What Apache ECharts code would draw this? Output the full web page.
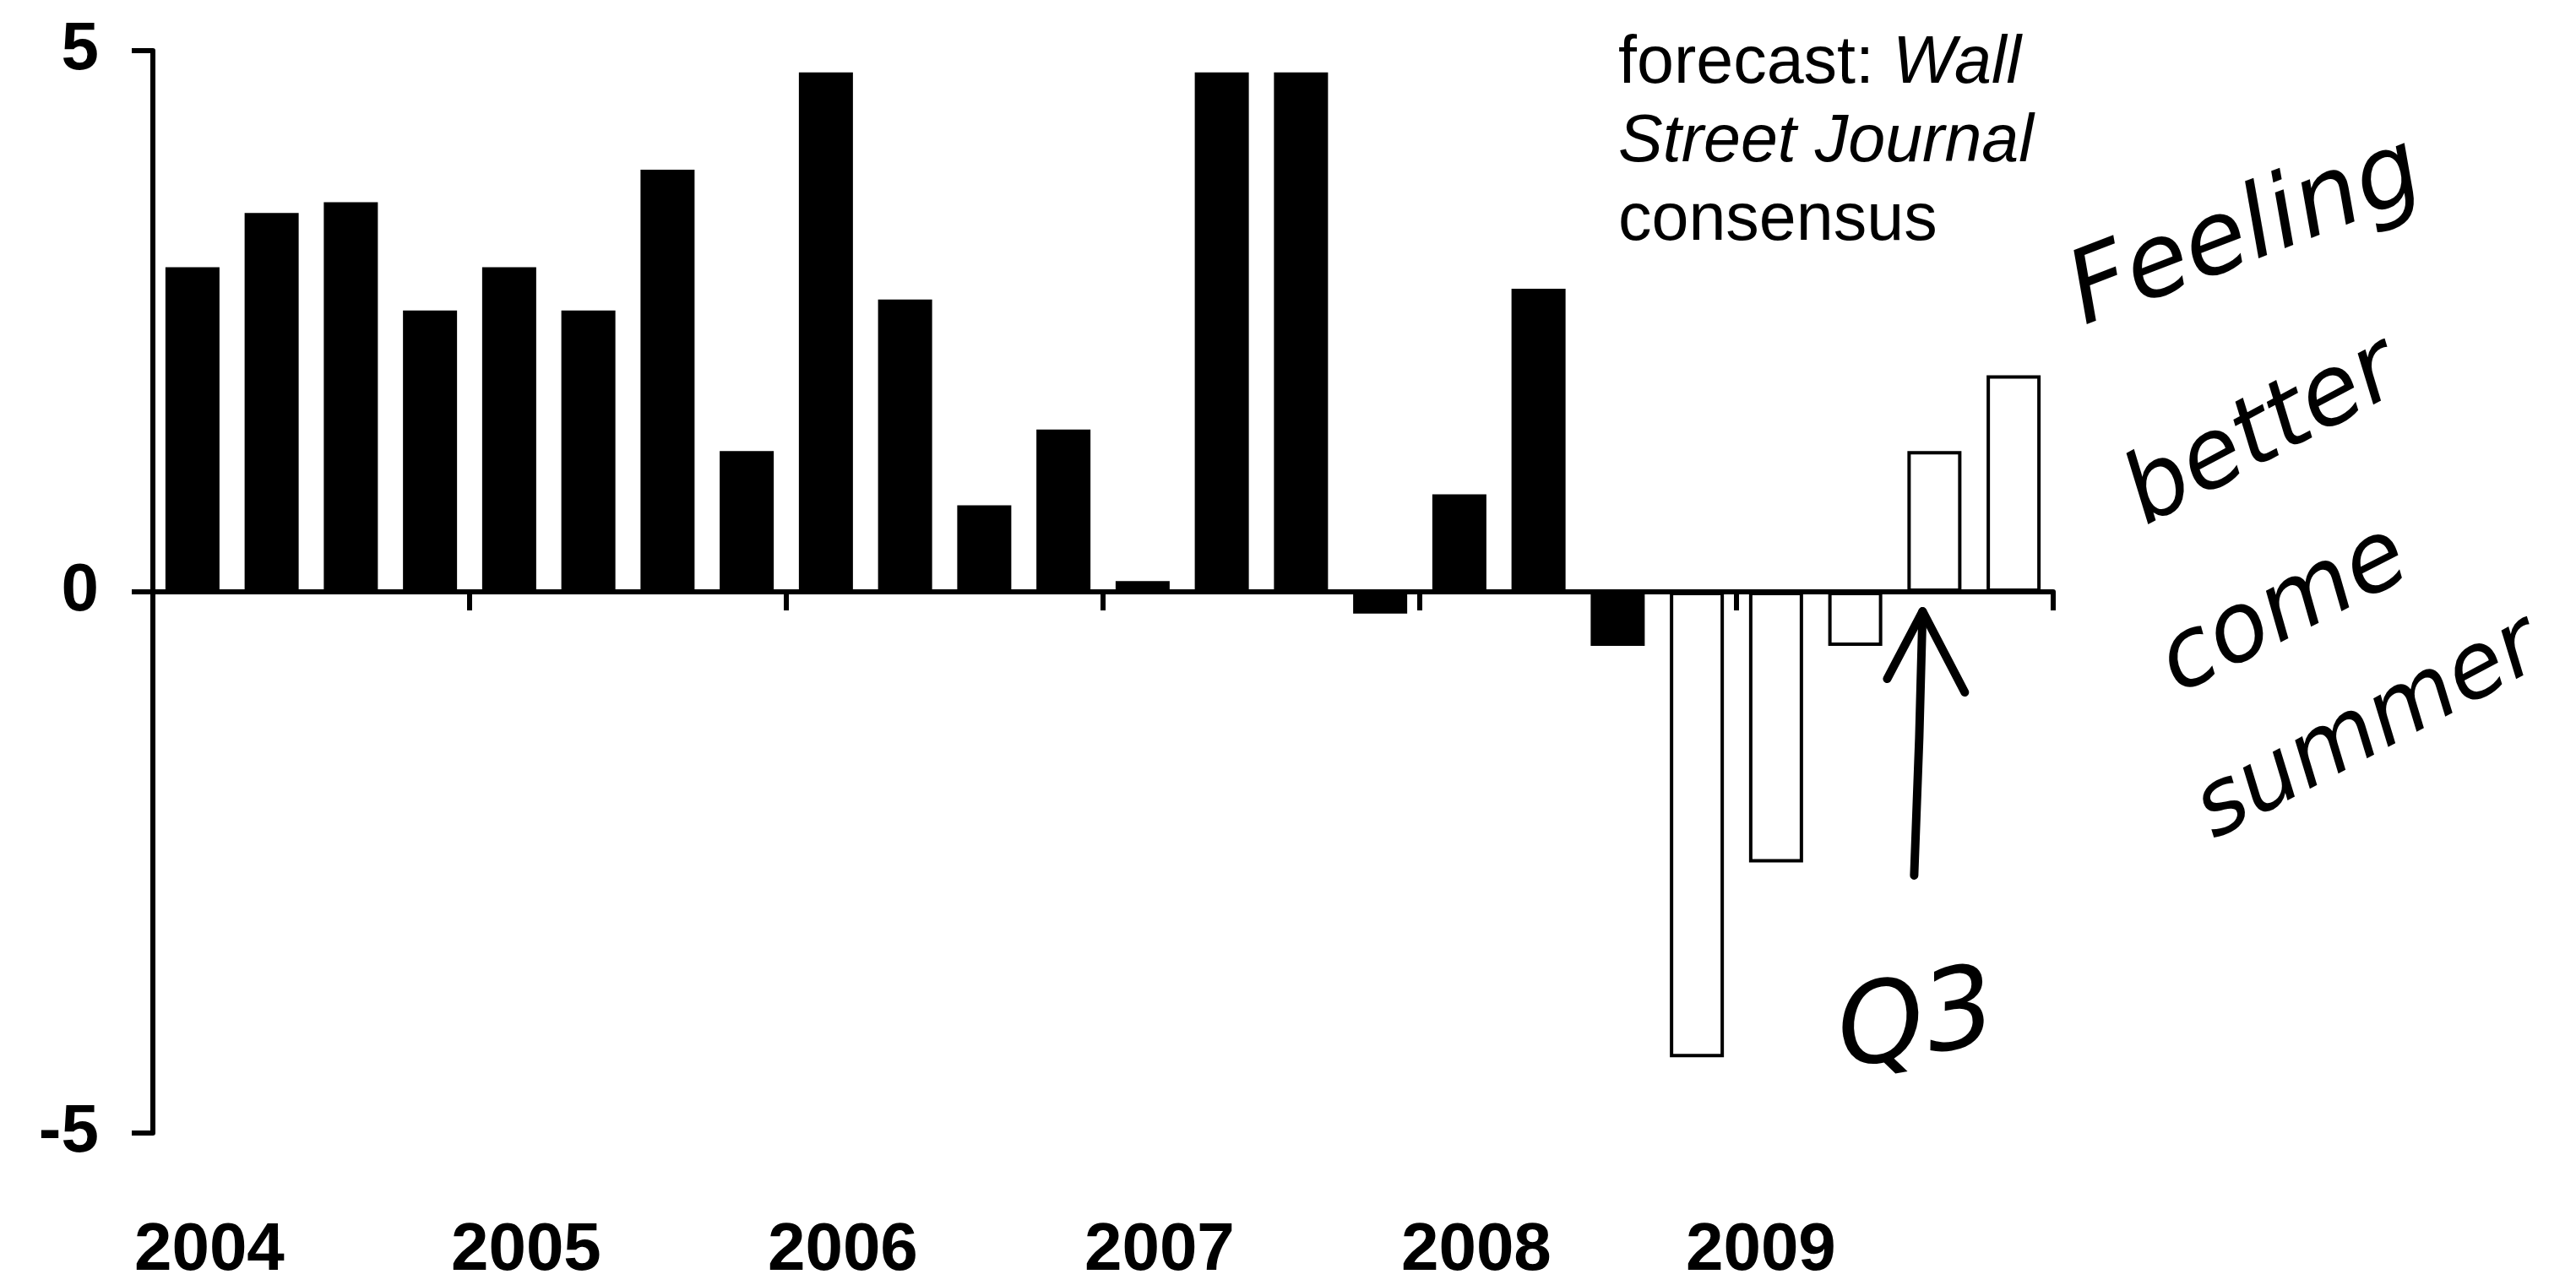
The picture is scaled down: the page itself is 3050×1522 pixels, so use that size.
<!DOCTYPE html>
<html>
<head>
<meta charset="utf-8">
<script src="https://cdn.jsdelivr.net/npm/echarts/dist/echarts.min.js"></script>
<style>
html,body{margin:0;padding:0;background:#ffffff;}
#chart{width:3050px;height:1522px;}
</style>
</head>
<body>
<div id="chart"></div>
<script>
// ---- data ----
const quarters = [
  '2004Q1','2004Q2','2004Q3','2004Q4',
  '2005Q1','2005Q2','2005Q3','2005Q4',
  '2006Q1','2006Q2','2006Q3','2006Q4',
  '2007Q1','2007Q2','2007Q3','2007Q4',
  '2008Q1','2008Q2','2008Q3','2008Q4',
  '2009Q1','2009Q2','2009Q3','2009Q4'
];
const years = ['2004','2005','2006','2007','2008','2009'];
// actual GDP growth (black bars), 2004Q1 - 2008Q3
const actualValues = [3.0, 3.5, 3.6, 2.6, 3.0, 2.6, 3.9, 1.3, 4.8, 2.7, 0.8, 1.5, 0.1, 4.8, 4.8, -0.2, 0.9, 2.8, -0.5];
// WSJ consensus forecast (white bars), 2008Q4 - 2009Q4
const forecastValues = [-4.3, -2.5, -0.5, 1.3, 2.0];
const yTicks = [-5, 0, 5];
const noteLines = ['forecast: {i|Wall}', '{i|Street Journal}', 'consensus'];
const handNote = ['Feeling', 'better', 'come', 'summer'];
const q3Label = 'Q3';
const arrowFrom = ['2009Q3', -2.62];
const arrowTo = ['2009Q3', -0.18];

// build padded series
const actualSeries = quarters.map((q, i) => i < actualValues.length ? actualValues[i] : null);
const forecastSeries = quarters.map((q, i) => {
  const k = i - actualValues.length;
  return k >= 0 ? forecastValues[k] : null;
});

const chart = echarts.init(document.getElementById('chart'), null, {renderer: 'canvas'});
const axisFont = 'Liberation Sans, Arial, sans-serif';
const labelStyle = {fontSize: 80, fontWeight: 'bold', fontFamily: axisFont, color: '#000'};

const option = {
  backgroundColor: '#ffffff',
  animation: false,
  grid: {left: 181, right: 619, top: 60, bottom: 178, containLabel: false},
  xAxis: [
    {
      type: 'category',
      data: quarters,
      position: 'bottom',
      boundaryGap: true,
      axisLine: {show: true, onZero: true, lineStyle: {color: '#000', width: 6}},
      axisTick: {show: true, length: 22, interval: (i) => i % 4 === 0, lineStyle: {color: '#000', width: 6}},
      axisLabel: {show: false},
      splitLine: {show: false}
    },
    {
      type: 'category',
      data: quarters,
      position: 'bottom',
      boundaryGap: true,
      axisLine: {show: false, onZero: false},
      axisTick: {show: false},
      axisLabel: {
        show: true,
        interval: (i) => i % 4 === 0,
        formatter: (v, i) => {
          const k = Math.floor(i / 4);
          return (k === years.length - 1 ? '{b|' : '{a|') + years[k] + '}';
        },
        margin: 100,
        fontSize: 80, fontWeight: 'bold', fontFamily: axisFont, color: '#000',
        rich: {
          a: Object.assign({padding: [0, 0, 0, 40]}, labelStyle),
          b: Object.assign({padding: [0, 36, 0, 0]}, labelStyle)
        }
      },
      splitLine: {show: false}
    }
  ],
  yAxis: {
    type: 'value',
    min: yTicks[0],
    max: yTicks[yTicks.length - 1],
    interval: 5,
    axisLine: {show: true, lineStyle: {color: '#000', width: 6}},
    axisTick: {show: true, length: 25, lineStyle: {color: '#000', width: 6}},
    axisLabel: Object.assign({
      margin: 64,
      formatter: (v) => yTicks.indexOf(v) >= 0 ? String(v) : ''
    }, labelStyle),
    splitLine: {show: false}
  },
  series: [
    {
      name: 'actual',
      type: 'bar',
      xAxisIndex: 0,
      data: actualSeries,
      barWidth: 64,
      barGap: '-100%',
      itemStyle: {color: '#000', borderColor: '#000', borderWidth: 2}
    },
    {
      name: 'forecast',
      type: 'bar',
      xAxisIndex: 0,
      data: forecastSeries,
      barWidth: 64,
      barGap: '-100%',
      itemStyle: {color: '#fff', borderColor: '#000', borderWidth: 4}
    }
  ]
};
chart.setOption(option);

// annotations anchored to data coords
const tip = chart.convertToPixel({xAxisIndex: 0, yAxisIndex: 0}, arrowTo);
const tail = chart.convertToPixel({xAxisIndex: 0, yAxisIndex: 0}, arrowFrom);
const handFont = 'DejaVu Sans, sans-serif';
const hand = (text, x, y, deg, size) => ({
  type: 'text', x: x, y: y, rotation: deg * Math.PI / 180,
  style: {text: text, fontSize: size, fontStyle: 'italic', fontFamily: handFont, fill: '#000',
    align: 'center', verticalAlign: 'middle', textAlign: 'center', textVerticalAlign: 'middle'}
});

chart.setOption({
  graphic: [
    {
      type: 'text', x: 1916, y: 30,
      style: {
        text: noteLines.join('\n'),
        fontSize: 79, fontFamily: axisFont, lineHeight: 93, fill: '#000',
        rich: {i: {fontStyle: 'italic', fontSize: 79, fontFamily: axisFont, lineHeight: 93, fill: '#000'}}
      }
    },
    hand(handNote[0], 2660, 278, 21, 120),
    hand(handNote[1], 2680, 515, 28, 114),
    hand(handNote[2], 2705, 725, 27, 114),
    hand(handNote[3], 2805, 865, 28, 108),
    hand(q3Label, 2270, 1215, 10, 132),
    {type: 'polyline',
      shape: {points: [[tail[0] - 24, tail[1]], [tip[0] - 18, tip[1] + 150], [tip[0] - 14, tip[1]]]},
      style: {stroke: '#000', lineWidth: 10, fill: null, lineCap: 'round', lineJoin: 'round'}},
    {type: 'polyline',
      shape: {points: [[tip[0] - 56, tip[1] + 80], [tip[0] - 14, tip[1]], [tip[0] + 36, tip[1] + 96]]},
      style: {stroke: '#000', lineWidth: 10, fill: null, lineCap: 'round', lineJoin: 'round'}}
  ]
});
</script>
</body>
</html>
